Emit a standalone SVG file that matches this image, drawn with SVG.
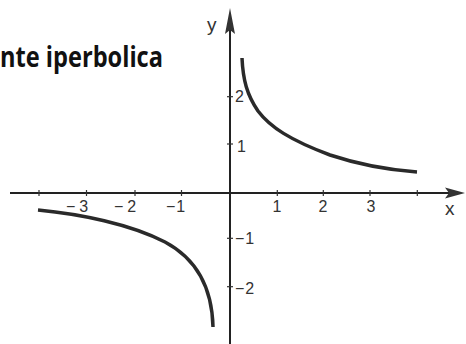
<svg xmlns="http://www.w3.org/2000/svg" width="466" height="344" viewBox="0 0 466 344">
<style>
.axis{stroke:#222;stroke-width:2;fill:none}
.tick{stroke:#333;stroke-width:1.2}
.curve{stroke:#2a2a2a;stroke-width:3.5;fill:none;stroke-linecap:butt}
.num{font-family:"Liberation Sans",Arial,sans-serif;font-size:16px;fill:#333}
.var{font-family:"Liberation Sans",Arial,sans-serif;font-size:19px;fill:#333}
.title{font-family:"Open Sans","Liberation Sans",sans-serif;font-weight:700;font-size:28px;fill:#111}
</style>
<rect width="466" height="344" fill="#ffffff"/>
<g id="title">
<text class="title" x="0" y="67" textLength="163" lengthAdjust="spacingAndGlyphs">nte iperbolica</text>
</g>
<g id="axes">
<line class="axis" x1="10" y1="193" x2="450" y2="193"/>
<polygon points="445,187.5 465,193 445,198.5 449,193" fill="#333"/>
<line class="axis" x1="230" y1="30" x2="230" y2="344"/>
<polygon points="230,8 235,34 230,30 225,34" fill="#333"/>
<text class="var" x="445" y="215">x</text>
<text class="var" x="207" y="31">y</text>
</g>
<g id="ticks">
<line class="tick" x1="39" y1="190" x2="39" y2="196"/>
<line class="tick" x1="86.5" y1="190" x2="86.5" y2="196"/>
<line class="tick" x1="135" y1="190" x2="135" y2="196"/>
<line class="tick" x1="181.5" y1="190" x2="181.5" y2="196"/>
<line class="tick" x1="277.3" y1="190" x2="277.3" y2="196"/>
<line class="tick" x1="323.3" y1="190" x2="323.3" y2="196"/>
<line class="tick" x1="370" y1="190" x2="370" y2="196"/>
<line class="tick" x1="417.3" y1="190" x2="417.3" y2="196"/>
<line class="tick" x1="227" y1="96.7" x2="233" y2="96.7"/>
<line class="tick" x1="227" y1="144" x2="233" y2="144"/>
<line class="tick" x1="227" y1="238.3" x2="233" y2="238.3"/>
<line class="tick" x1="227" y1="286.7" x2="233" y2="286.7"/>
</g>
<g id="labels">
<text class="num" x="277" y="212" text-anchor="middle">1</text>
<text class="num" x="323" y="212" text-anchor="middle">2</text>
<text class="num" x="371" y="212" text-anchor="middle">3</text>
<text class="num" x="66" y="212">−<tspan dx="4">3</tspan></text>
<text class="num" x="114" y="212">−<tspan dx="4">2</tspan></text>
<text class="num" x="166" y="212">−<tspan dx="1">1</tspan></text>
<text class="num" x="235" y="102">2</text>
<text class="num" x="237" y="152">1</text>
<text class="num" x="235" y="244">−<tspan dx="1">1</tspan></text>
<text class="num" x="235" y="294">−<tspan dx="1">2</tspan></text>
</g>
<g id="curves">
<path class="curve" d="M242,58 C243,80 247,95 258,111 C270,127 290,140 330,155 C360,165 390,170 417,172"/>
<path class="curve" d="M38,210 C80,214 130,224 165,242 C195,258 212,285 213,327"/>
</g>
</svg>
